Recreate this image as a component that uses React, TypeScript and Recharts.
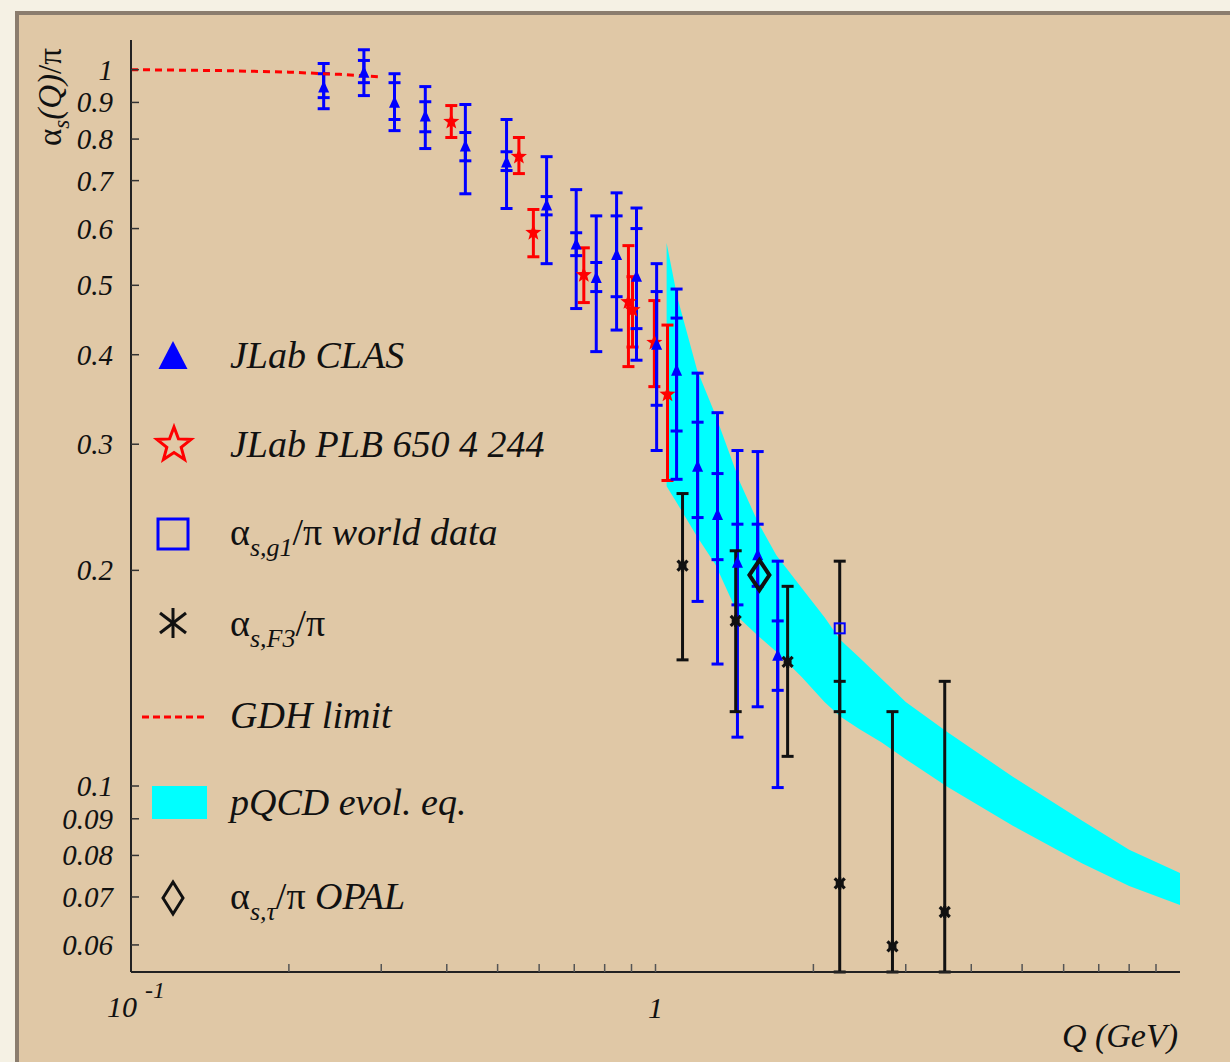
import React from 'react';
import { ComposedChart, Area, Line, Scatter, ErrorBar, XAxis, YAxis, Legend } from 'recharts';

const SERIF = '"Liberation Serif", "Times New Roman", serif';
const BLUE = '#0000ff';
const RED = '#ff0000';
const INK = '#111111';

// JLab CLAS (blue triangles): value, total error bounds, inner (stat) error bounds
const clasQ = [0.233, 0.278, 0.318, 0.364, 0.434, 0.52, 0.62, 0.706, 0.771, 0.843, 0.92, 1.005, 1.097, 1.203, 1.313, 1.433, 1.566, 1.71];
const clasVal = [0.944, 0.99, 0.899, 0.86, 0.781, 0.742, 0.646, 0.57, 0.512, 0.551, 0.514, 0.413, 0.38, 0.279, 0.239, 0.205, 0.21, 0.152];
const clasTotLo = [0.882, 0.92, 0.822, 0.776, 0.671, 0.64, 0.536, 0.464, 0.404, 0.433, 0.393, 0.294, 0.268, 0.181, 0.148, 0.117, 0.129, 0.0995];
const clasTotHi = [1.02, 1.066, 0.987, 0.947, 0.894, 0.852, 0.756, 0.68, 0.625, 0.673, 0.641, 0.536, 0.494, 0.377, 0.332, 0.294, 0.293, 0.206];
const clasStatLo = [0.914, 0.959, 0.852, 0.819, 0.746, 0.723, 0.627, 0.55, 0.49, 0.482, 0.435, 0.34, 0.313, 0.237, 0.207, 0.179, 0.19, 0.136];
const clasStatHi = [0.987, 1.03, 0.959, 0.902, 0.817, 0.768, 0.665, 0.592, 0.538, 0.625, 0.6, 0.49, 0.45, 0.322, 0.273, 0.232, 0.232, 0.17];

// JLab PLB 650 4 244 (red stars)
const plbQ = [0.408, 0.549, 0.585, 0.73, 0.888, 0.904, 0.995, 1.054];
const plbVal = [0.846, 0.756, 0.592, 0.517, 0.474, 0.462, 0.416, 0.352];
const plbLo = [0.804, 0.716, 0.548, 0.473, 0.385, 0.41, 0.361, 0.267];
const plbHi = [0.891, 0.804, 0.638, 0.564, 0.568, 0.514, 0.476, 0.44];

// alpha_s,F3 / pi (black asterisks)
const f3Q = [1.126, 1.422, 1.786, 2.245, 2.83, 3.56];
const f3Val = [0.203, 0.17, 0.149, 0.0731, 0.0597, 0.0667];
const f3Lo = [0.15, 0.127, 0.11, 0.055, 0.055, 0.055];
const f3Hi = [0.256, 0.213, 0.19, 0.206, 0.127, 0.14];
const f3CapLo = [null, null, null, 0.127, null, null];
const f3CapHi = [null, null, null, 0.14, null, null];

// alpha_s,g1 / pi world data
const g1Q = [2.245];
const g1Val = [0.166];

// alpha_s,tau / pi OPAL
const opalQ = [1.578];
const opalVal = [0.197];

// GDH limit
const gdhQ = [0.1, 0.15, 0.2, 0.25, 0.3];
const gdhVal = [1.0, 0.997, 0.992, 0.985, 0.977];

// pQCD evolution band
const bandQ = [1.05, 1.1, 1.2, 1.3, 1.45, 1.57, 1.7, 1.9, 2.1, 2.25, 2.45, 2.7, 3.0, 3.6, 4.8, 6.5, 8.0, 10];
const bandHi = [0.573, 0.482, 0.381, 0.33, 0.265, 0.233, 0.21, 0.189, 0.172, 0.16, 0.151, 0.141, 0.131, 0.119, 0.103, 0.0895, 0.0815, 0.0756];
const bandLo = [0.262, 0.248, 0.223, 0.204, 0.171, 0.162, 0.154, 0.142, 0.131, 0.125, 0.12, 0.115, 0.109, 0.0998, 0.088, 0.078, 0.0725, 0.0682];

const xTicks = [0.1, 0.2, 0.3, 0.4, 0.5, 0.6, 0.7, 0.8, 0.9, 1, 2, 3, 4, 5, 6, 7, 8, 9, 10];
const yTicks = [1, 0.9, 0.8, 0.7, 0.6, 0.5, 0.4, 0.3, 0.2, 0.1, 0.09, 0.08, 0.07, 0.06];
const yTickLabels = ['1', '0.9', '0.8', '0.7', '0.6', '0.5', '0.4', '0.3', '0.2', '0.1', '0.09', '0.08', '0.07', '0.06'];

const clasData = clasQ.map((q, i) => ({
  q, v: clasVal[i], lo: clasTotLo[i], hi: clasTotHi[i], slo: clasStatLo[i], shi: clasStatHi[i],
}));
const plbData = plbQ.map((q, i) => ({ q, v: plbVal[i], lo: plbLo[i], hi: plbHi[i] }));
const f3Data = f3Q.map((q, i) => ({ q, v: f3Val[i], lo: f3Lo[i], hi: f3Hi[i], clo: f3CapLo[i], chi: f3CapHi[i] }));
const g1Data = g1Q.map((q, i) => ({ q, v: g1Val[i] }));
const opalData = opalQ.map((q, i) => ({ q, v: opalVal[i] }));
const gdhData = gdhQ.map((q, i) => ({ q, v: gdhVal[i] }));
const bandData = bandQ.map((q, i) => ({ q, range: [bandLo[i], bandHi[i]] }));

const totErr = (d: any) => [d.v - d.lo, d.hi - d.v];
const statErr = (d: any) => [d.v - d.slo, d.shi - d.v];
const capErr = (d: any) => (d.clo == null ? undefined : [d.v - d.clo, d.chi - d.v]);

const starPath = (cx: number, cy: number, r: number) => {
  const pts: string[] = [];
  for (let k = 0; k < 10; k++) {
    const rad = k % 2 === 0 ? r : r * 0.42;
    const a = -Math.PI / 2 + (k * Math.PI) / 5;
    pts.push(`${cx + rad * Math.cos(a)},${cy + rad * Math.sin(a)}`);
  }
  return `M${pts.join('L')}Z`;
};

const TriangleDot = ({ cx, cy }: any) => (
  <path d={`M${cx},${cy - 7} L${cx + 5.5},${cy + 5} L${cx - 5.5},${cy + 5} Z`} fill={BLUE} />
);
const StarDot = ({ cx, cy }: any) => <path d={starPath(cx, cy, 8.5)} fill={RED} />;
const SquareDot = ({ cx, cy }: any) => (
  <rect x={cx - 5} y={cy - 5} width={10} height={10} fill="none" stroke={BLUE} strokeWidth={2} />
);
const AsteriskDot = ({ cx, cy }: any) => (
  <g stroke={INK} strokeWidth={3.2}>
    <line x1={cx - 5} y1={cy - 5} x2={cx + 5} y2={cy + 5} />
    <line x1={cx - 5} y1={cy + 5} x2={cx + 5} y2={cy - 5} />
    <line x1={cx} y1={cy - 6} x2={cx} y2={cy + 6} />
    <line x1={cx - 4} y1={cy} x2={cx + 4} y2={cy} />
  </g>
);
const DiamondDot = ({ cx, cy }: any) => (
  <path d={`M${cx},${cy - 15} L${cx + 10},${cy} L${cx},${cy + 15} L${cx - 10},${cy} Z`} fill="none" stroke={INK} strokeWidth={4} />
);

const YTick = ({ x, y, payload, index }: any) => (
  <g>
    <line x1={x} y1={y} x2={x + 8} y2={y} stroke="#333" strokeWidth={1.5} />
    <text x={x - 18} y={y + 10} textAnchor="end" fontFamily={SERIF} fontStyle="italic" fontSize={29} fill={INK}>
      {yTickLabels[index] ?? String(payload.value)}
    </text>
  </g>
);

const XTick = ({ x, y, payload }: any) => {
  const v = payload.value;
  return (
    <g>
      {v !== 0.1 && v !== 10 && <line x1={x} y1={y} x2={x} y2={y - 8} stroke="#555" strokeWidth={1.5} />}
      {v === 0.1 && (
        <text x={x + 6} y={y + 45} textAnchor="end" fontFamily={SERIF} fontStyle="italic" fontSize={30} fill={INK}>10</text>
      )}
      {v === 0.1 && (
        <text x={x + 14} y={y + 26} fontFamily={SERIF} fontStyle="italic" fontSize={24} fill={INK}>-1</text>
      )}
      {v === 1 && (
        <text x={x} y={y + 46} textAnchor="middle" fontFamily={SERIF} fontStyle="italic" fontSize={30} fill={INK}>1</text>
      )}
    </g>
  );
};

const YTitle = () => (
  <text transform="translate(61,97) rotate(-90)" textAnchor="middle" fontFamily={SERIF} fontSize={33} fill={INK}>
    <tspan>α</tspan>
    <tspan fontStyle="italic" fontSize={23} dy={8}>s</tspan>
    <tspan fontStyle="italic" dy={-8}>(Q)</tspan>
    <tspan>/π</tspan>
  </text>
);

const XTitle = () => (
  <text x={1178} y={1047} textAnchor="end" fontFamily={SERIF} fontStyle="italic" fontSize={34} fill={INK}>
    Q (GeV)
  </text>
);

const lbl = { fontFamily: SERIF, fontSize: 38, fill: INK };

const LegendBox = () => (
  <svg width={440} height={620} style={{ overflow: 'visible', display: 'block' }}>
    <path d="M43,21 L57.5,49 L28.5,49 Z" fill={BLUE} />
    <text x={100} y={48} {...lbl} fontStyle="italic">JLab CLAS</text>

    <path d={starPath(44, 125, 18)} fill="none" stroke={RED} strokeWidth={3} />
    <text x={100} y={137} {...lbl} fontStyle="italic">JLab PLB 650 4 244</text>

    <rect x={28} y={199} width={30} height={30} fill="none" stroke={BLUE} strokeWidth={3} />
    <text x={100} y={225} {...lbl}>
      <tspan>α</tspan>
      <tspan fontStyle="italic" fontSize={26} dy={11}>s,g1</tspan>
      <tspan dy={-11}>/π </tspan>
      <tspan fontStyle="italic">world data</tspan>
    </text>

    <g stroke={INK} strokeWidth={3}>
      <line x1={43} y1={288} x2={43} y2={318} />
      <line x1={30} y1={293} x2={56} y2={313} />
      <line x1={30} y1={313} x2={56} y2={293} />
    </g>
    <text x={100} y={316} {...lbl}>
      <tspan>α</tspan>
      <tspan fontStyle="italic" fontSize={26} dy={11}>s,F3</tspan>
      <tspan dy={-11}>/π</tspan>
    </text>

    <line x1={12} y1={397} x2={78} y2={397} stroke={RED} strokeWidth={3} strokeDasharray="7 4" />
    <text x={100} y={408} {...lbl} fontStyle="italic">GDH limit</text>

    <rect x={22} y={466} width={55} height={33} fill="#00ffff" />
    <text x={100} y={495} {...lbl} fontStyle="italic">pQCD evol. eq.</text>

    <path d="M43,562 L53,578 L43,594 L33,578 Z" fill="none" stroke={INK} strokeWidth={3} />
    <text x={100} y={589} {...lbl}>
      <tspan>α</tspan>
      <tspan fontStyle="italic" fontSize={26} dy={11}>s,τ</tspan>
      <tspan dy={-11}>/π </tspan>
      <tspan fontStyle="italic">OPAL</tspan>
    </text>
  </svg>
);

const App = () => (
  <div style={{ position: 'absolute', left: 0, top: 0, width: 1230, height: 1062, overflow: 'hidden', background: '#f5f1e4' }}>
    <div
      style={{
        position: 'absolute', left: 15, top: 11, right: 0, bottom: 0,
        borderLeft: '4px solid #8b7d6e', borderTop: '4px solid #8b7d6e', background: '#e0c8a6',
      }}
    />
    <div style={{ position: 'absolute', left: 0, top: 0 }}>
      <ComposedChart width={1230} height={1062} margin={{ top: 40, right: 50, bottom: 50, left: 71 }}>
        <XAxis
          dataKey="q" type="number" scale="log" domain={[0.1, 10]} allowDataOverflow
          ticks={xTicks} interval={0} tickSize={0} tickMargin={0} tickLine={false}
          axisLine={{ stroke: '#222', strokeWidth: 2 }} tick={<XTick />} height={40}
          label={{ content: () => <XTitle /> }}
        />
        <YAxis
          type="number" scale="log" domain={[0.055, 1.1]} allowDataOverflow
          ticks={yTicks} interval={0} tickSize={0} tickMargin={0} tickLine={false}
          axisLine={{ stroke: '#222', strokeWidth: 2 }} tick={<YTick />} width={60}
          label={{ content: () => <YTitle /> }}
        />
        <XAxis xAxisId="top" orientation="top" type="number" domain={[0, 1]} tick={false} tickLine={false} height={0} axisLine={{ stroke: '#333', strokeWidth: 2 }} />
        <YAxis yAxisId="right" orientation="right" type="number" domain={[0, 1]} tick={false} tickLine={false} width={0} axisLine={{ stroke: '#6d6254', strokeWidth: 2 }} />

        <Area data={bandData} dataKey="range" type="linear" stroke="none" fill="#00ffff" fillOpacity={1} isAnimationActive={false} />

        <Scatter name="JLab PLB 650 4 244" data={plbData} dataKey="v" shape={<StarDot />} isAnimationActive={false}>
          <ErrorBar dataKey={totErr} direction="y" width={6} stroke={RED} strokeWidth={3} isAnimationActive={false} />
        </Scatter>
        <Scatter name="JLab CLAS" data={clasData} dataKey="v" shape={<TriangleDot />} isAnimationActive={false}>
          <ErrorBar dataKey={totErr} direction="y" width={6} stroke={BLUE} strokeWidth={3} isAnimationActive={false} />
          <ErrorBar dataKey={statErr} direction="y" width={6} stroke={BLUE} strokeWidth={3} isAnimationActive={false} />
        </Scatter>
        <Line data={gdhData} dataKey="v" type="linear" stroke={RED} strokeWidth={3} strokeDasharray="7 5" dot={false} isAnimationActive={false} />
        <Scatter name="F3" data={f3Data} dataKey="v" shape={<AsteriskDot />} isAnimationActive={false}>
          <ErrorBar dataKey={totErr} direction="y" width={6} stroke={INK} strokeWidth={3} isAnimationActive={false} />
          <ErrorBar dataKey={capErr} direction="y" width={6} stroke={INK} strokeWidth={3} isAnimationActive={false} />
        </Scatter>
        <Scatter name="g1 world data" data={g1Data} dataKey="v" shape={<SquareDot />} isAnimationActive={false} />
        <Scatter name="OPAL" data={opalData} dataKey="v" shape={<DiamondDot />} isAnimationActive={false} />

        <Legend
          layout="vertical" align="center" verticalAlign="middle"
          content={() => <LegendBox />}
          wrapperStyle={{ left: 130, top: 320, width: 440, height: 620 }}
        />
      </ComposedChart>
    </div>
  </div>
);

export default App;
